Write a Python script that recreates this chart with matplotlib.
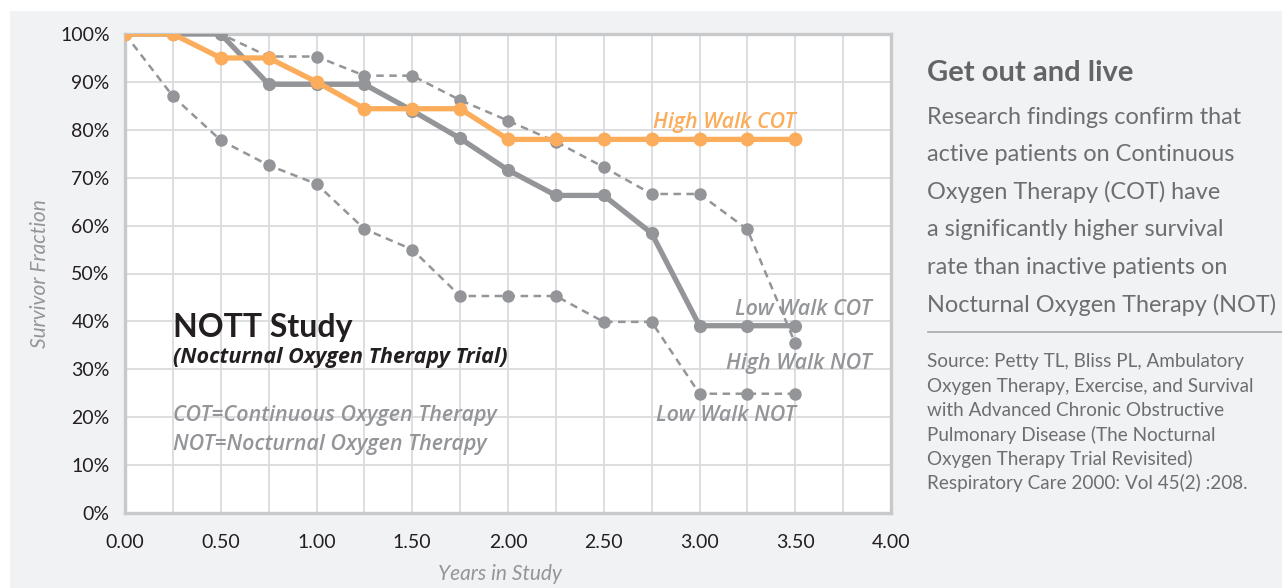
import matplotlib.pyplot as plt
from matplotlib.patches import Rectangle
from matplotlib.ticker import MultipleLocator, FuncFormatter

years = [0, 0.25, 0.5, 0.75, 1.0, 1.25, 1.5, 1.75, 2.0, 2.25, 2.5, 2.75, 3.0, 3.25, 3.5]

high_walk_cot = [100, 100, 95, 95, 90, 84.4, 84.4, 84.4, 78, 78, 78, 78, 78, 78, 78]
low_walk_cot = [100, 100, 100, 89.5, 89.5, 89.5, 84, 78.2, 71.6, 66.3, 66.3, 58.4, 39.1, 39.1, 39.1]
high_walk_not = [100, 100, 100, 95.3, 95.3, 91.3, 91.3, 86.2, 81.9, 77.5, 72.2, 66.6, 66.6, 59.2, 35.4]
low_walk_not = [100, 87, 77.8, 72.6, 68.7, 59.3, 55, 45.3, 45.3, 45.3, 39.9, 39.9, 24.9, 24.9, 24.9]

body_lines = ["Research findings confirm that",
              "active patients on Continuous",
              "Oxygen Therapy (COT) have",
              "a significantly higher survival",
              "rate than inactive patients on",
              "Nocturnal Oxygen Therapy (NOT)"]
source_lines = ["Source: Petty TL, Bliss PL, Ambulatory",
                "Oxygen Therapy, Exercise, and Survival",
                "with Advanced Chronic Obstructive",
                "Pulmonary Disease (The Nocturnal",
                "Oxygen Therapy Trial Revisited)",
                "Respiratory Care 2000: Vol 45(2) :208."]

orange = "#fbad5b"
gray = "#939598"
bg = "#f1f2f4"

plt.rcParams['font.family'] = ['Lato', 'DejaVu Sans']

W, H = 1282, 588
fig = plt.figure(figsize=(W / 100, H / 100), dpi=100)
fig.patch.set_facecolor("white")
fig.add_artist(Rectangle((10 / W, 0), 1, 1 - 11 / H, transform=fig.transFigure,
                         facecolor=bg, edgecolor="none", zorder=0))

def fx(px):
    return px / W

def fy(py):
    return 1 - py / H

ax = fig.add_axes([fx(125), fy(513), fx(891) - fx(125), fy(34) - fy(513)])
ax.set_facecolor("white")
ax.set_xlim(0, 4)
ax.set_ylim(0, 100)
ax.xaxis.set_major_locator(MultipleLocator(0.5))
ax.xaxis.set_minor_locator(MultipleLocator(0.25))
ax.yaxis.set_major_locator(MultipleLocator(10))
ax.xaxis.set_major_formatter(FuncFormatter(lambda v, p: f"{v:.2f}"))
ax.yaxis.set_major_formatter(FuncFormatter(lambda v, p: f"{v:.0f}%"))
ax.grid(True, which="both", axis="x", color="#dadbdc", lw=1.3, zorder=0)
ax.grid(True, which="major", axis="y", color="#dadbdc", lw=1.3, zorder=0)
ax.tick_params(which="both", length=0, labelsize=14, labelcolor="#231f20")
ax.tick_params(axis="x", pad=15)
ax.tick_params(axis="y", pad=11)
for s in ax.spines.values():
    s.set_color("#c8c9cb")
    s.set_linewidth(2.4)

dash = dict(color=gray, lw=1.8, ls=(0, (3, 2.2)), marker="o", ms=9,
            markeredgewidth=0, zorder=2)
ax.plot(years, low_walk_not, **dash)
ax.plot(years, high_walk_not, **dash)
ax.plot(years, low_walk_cot, color=gray, lw=3.8, marker="o", ms=9.5,
        markeredgewidth=0, zorder=3)
ax.plot(years, high_walk_cot, color=orange, lw=3.8, marker="o", ms=10,
        markeredgewidth=0, zorder=4)

lab = dict(style="italic", fontweight="semibold", fontsize=15.5, family=['Open Sans', 'DejaVu Sans'])
ax.text(3.5, 79.4, "High Walk COT", color=orange, ha="right", va="bottom", **lab)
ax.text(3.9, 40.2, "Low Walk COT", color=gray, ha="right", va="bottom", **lab)
ax.text(3.9, 29, "High Walk NOT", color=gray, ha="right", va="bottom", **lab)
ax.text(3.5, 18.2, "Low Walk NOT", color=gray, ha="right", va="bottom", **lab)

ax.text(0.25, 35.6, "NOTT Study", color="#231f20", fontsize=23, fontweight="bold",
        ha="left", va="bottom")
ax.text(0.25, 30.2, "(Nocturnal Oxygen Therapy Trial)", color="#231f20", fontsize=15.5,
        fontweight="bold", style="italic", ha="left", va="bottom",
        family=['Open Sans', 'DejaVu Sans'])
ax.text(0.25, 20.3, "COT=Continuous Oxygen Therapy", color=gray, ha="left", va="center", **lab)
ax.text(0.25, 14.3, "NOT=Nocturnal Oxygen Therapy", color=gray, ha="left", va="center", **lab)

ax.set_xlabel("Years in Study", fontsize=15, style="italic", color=gray)
ax.xaxis.set_label_coords((500 - 125) / (891 - 125), -(564 - 513) / (513 - 34))
ax.set_ylabel("Survivor Fraction", fontsize=15, style="italic", color=gray)
ax.yaxis.set_label_coords(-(125 - 50) / (891 - 125), 0.5)

fig.text(fx(927), fy(73), "Get out and live", fontsize=21, fontweight="bold",
         color="#636466", va="center", ha="left")
for i, line in enumerate(body_lines):
    fig.text(fx(927), fy(117 + i * 37.6), line, fontsize=16.9, color="#6d6e71",
             va="center", ha="left")
fig.add_artist(plt.Line2D([fx(928), 1], [fy(332), fy(332)], color="#a7a9ac", lw=1.2))
for i, line in enumerate(source_lines):
    fig.text(fx(927), fy(362 + i * 24.2), line, fontsize=13.6, color="#6d6e71",
             va="center", ha="left")

fig.savefig("out.png", dpi=100, facecolor=fig.get_facecolor())
